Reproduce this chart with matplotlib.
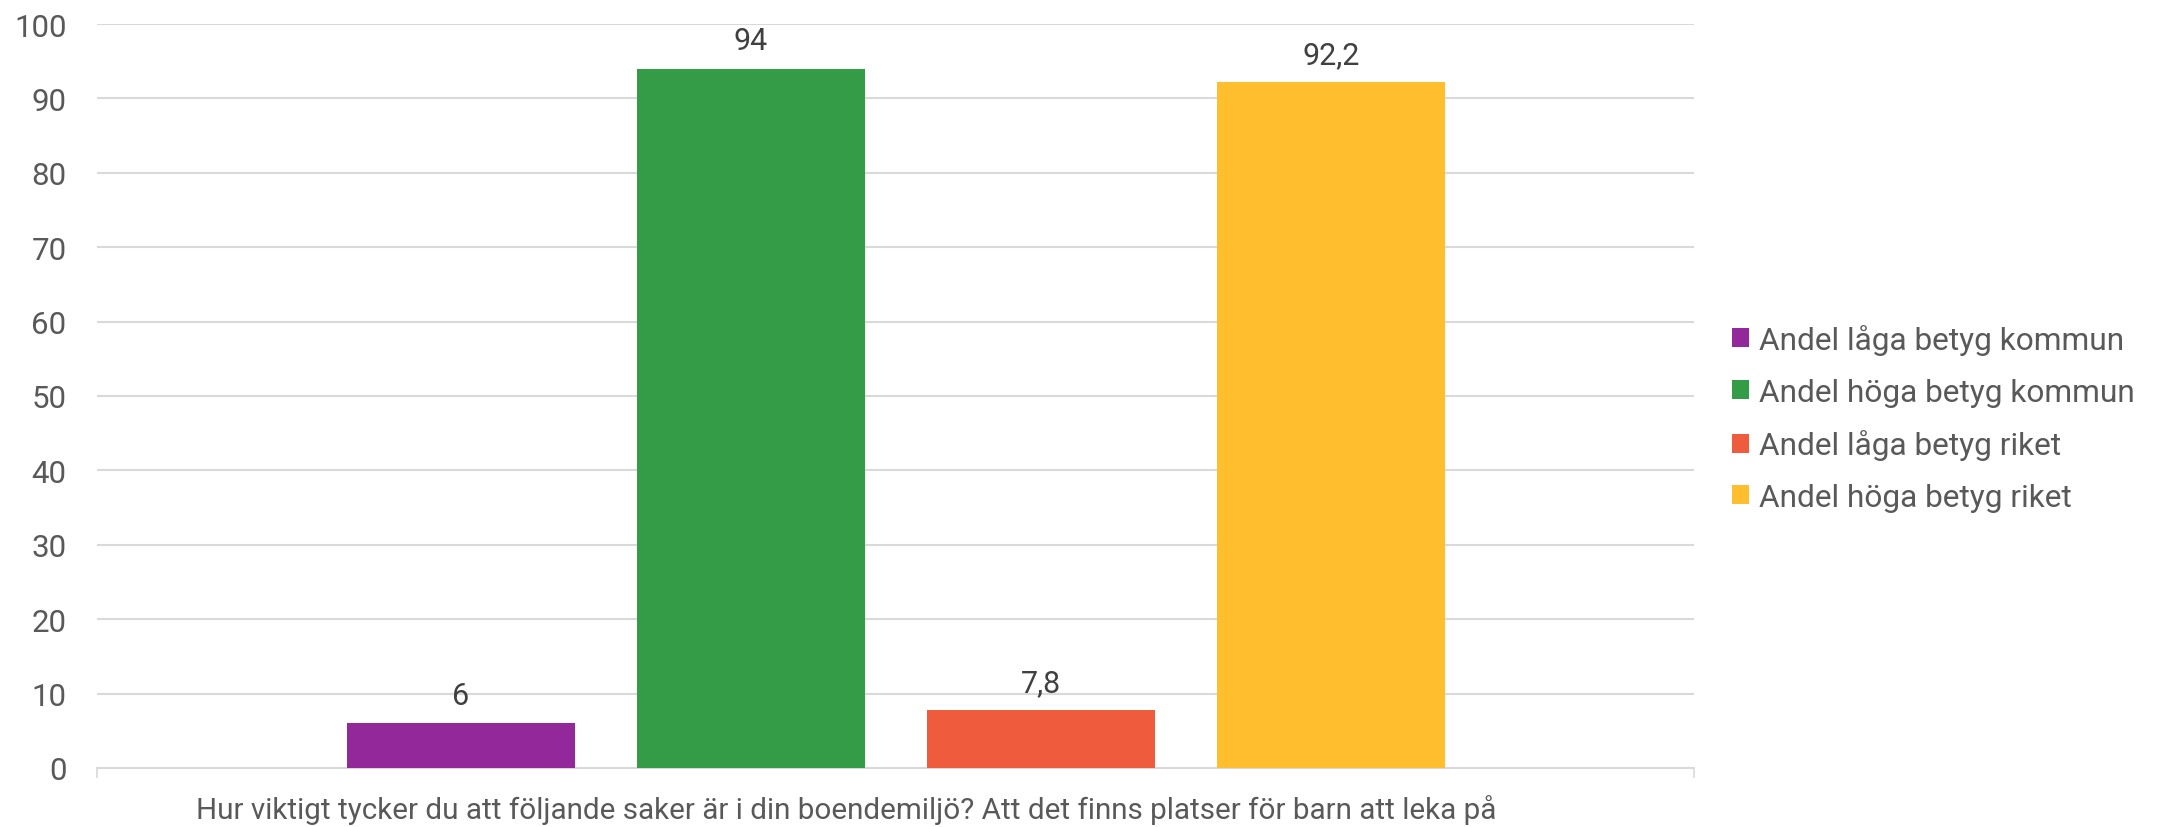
import matplotlib.pyplot as plt
from matplotlib.patches import Patch

plt.rcParams['font.family'] = ['Roboto', 'DejaVu Sans']

# Data
series = ["Andel låga betyg kommun", "Andel höga betyg kommun",
          "Andel låga betyg riket", "Andel höga betyg riket"]
values = [6, 94, 7.8, 92.2]
value_labels = ["6", "94", "7,8", "92,2"]
colors = ["#92289A", "#349C46", "#EF5B3D", "#FFBE2E"]
category = "Hur viktigt tycker du att följande saker är i din boendemiljö? Att det finns platser för barn att leka på"

fig = plt.figure(figsize=(21.66, 8.28), dpi=100)
ax = fig.add_axes([0.0448, 0.0713, 0.7375, 0.8985])

# bar layout inside the single category (axis spans 0..1)
offsets = [0.2276, 0.4092, 0.5908, 0.7724]
width = 0.1428
for x, v, lab, c, name in zip(offsets, values, value_labels, colors, series):
    ax.bar(x, v, width=width, color=c, label=name, zorder=3)
    ax.annotate(lab, (x, v), xytext=(0, 20), textcoords="offset points",
                ha="center", va="center", fontsize=22, color="#404040")

ax.set_xlim(0, 1)
ax.set_ylim(0, 100)
ax.set_yticks(range(0, 101, 10))
ax.tick_params(axis="y", length=0, pad=22, labelsize=22.5, labelcolor="#595959")
ax.set_xticks([0, 1])
ax.set_xticklabels([])
ax.tick_params(axis="x", length=7, width=1.2, color="#D9D9D9")
ax.grid(axis="y", color="#D9D9D9", linewidth=1.5, zorder=0)
for s in ["top", "right", "left"]:
    ax.spines[s].set_visible(False)
ax.spines["bottom"].set_color("#D9D9D9")
ax.spines["bottom"].set_linewidth(1.5)

fig.text(0.3906, 0.022, category, ha="center", va="center",
         fontsize=21.3, color="#595959")

handles = [Patch(facecolor=c, label=n) for c, n in zip(colors, series)]
fig.legend(handles=handles, loc="center left", bbox_to_anchor=(0.7865, 0.494),
           frameon=False, fontsize=22.8, labelcolor="#595959",
           handlelength=0.55, handleheight=0.55, handletextpad=0.3,
           labelspacing=0.72)

fig.savefig("out.png", dpi=100)
